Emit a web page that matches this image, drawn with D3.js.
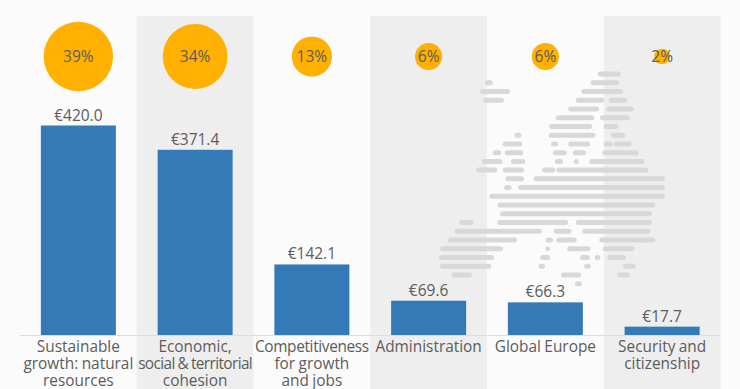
<!DOCTYPE html>
<html>
<head>
<meta charset="utf-8">
<script src="https://cdn.jsdelivr.net/npm/d3@7"></script>
<style>
  html, body { margin: 0; padding: 0; background: #fbfbfb; }
  svg { display: block; font-family: "Open Sans", sans-serif; }
</style>
</head>
<body>
<div id="chart"></div>
<script>
const categories = [
  ['Sustainable', 'growth: natural', 'resources'],
  ['Economic,', 'social & territorial', 'cohesion'],
  ['Competitiveness', 'for growth', 'and jobs'],
  ['Administration'],
  ['Global Europe'],
  ['Security and', 'citizenship']
];
const budget = [420.0, 371.4, 142.1, 69.6, 66.3, 17.7];
const shares = [39, 34, 13, 6, 6, 2];

// backdrop map of Europe: one list of [from, to] dashes per row
const mapRows = [
  [[597.7, 620.7]],
  [[485, 492.7], [590.7, 619.3]],
  [[480, 510], [581.3, 622.7]],
  [[483.3, 504], [575.7, 604], [608.7, 627.3]],
  [[568.3, 599], [606, 633.3]],
  [[555.7, 594.3], [600, 630]],
  [[549.3, 592], [603.7, 618.3]],
  [[514.7, 521.3], [548.7, 595.3], [611, 625]],
  [[502.7, 522.3], [551, 558], [568.3, 590], [603.7, 612.7], [614, 631.7]],
  [[492.7, 501], [504.7, 523.3], [553, 566.7], [572.7, 586], [602.3, 638.7]],
  [[482, 502.3], [511, 525.3], [554.7, 563], [573.7, 578.7], [589.3, 644.3]],
  [[476, 497.3], [502.7, 524], [542, 555.3], [556.3, 648.3]],
  [[505.3, 524], [533.7, 665]],
  [[504, 511.7], [518.3, 665]],
  [[489.3, 665]],
  [[497.3, 655.3]],
  [[500, 652]],
  [[459.3, 473.7], [497.3, 568], [576, 652]],
  [[454.7, 541.7], [553.7, 571.3], [582.3, 650.3]],
  [[448, 517], [545.7, 553], [556.3, 576.7], [599.3, 655.3]],
  [[440, 503], [545.3, 550], [567.3, 590.7], [602.7, 634.3]],
  [[439, 494], [540.3, 550], [580, 589.7], [594.7, 600.3], [607.3, 626]],
  [[440, 491.3], [538.7, 545], [584, 590.7], [623, 635.7]],
  [[451.7, 472], [561, 581.3], [617.3, 630]],
  [[575, 581.7]]
];

const width = 740, height = 389;
const baseline = 335.5;

const svg = d3.select('#chart').append('svg')
  .attr('width', width)
  .attr('height', height)
  .attr('viewBox', `0 0 ${width} ${height}`);

const x = d3.scaleBand().domain(d3.range(categories.length)).range([20, 720.5]);
const barWidth = 75;
const y = d3.scaleLinear().domain([0, 420]).range([baseline, 125.5]);
const r = d3.scaleSqrt().domain([0, 39]).range([0, 34.7]);
const rowY = d3.scaleLinear().domain([0, mapRows.length - 1]).range([74, 283.7]);

// every other column gets a grey band
svg.append('g').selectAll('rect')
  .data(d3.range(categories.length).filter(i => i % 2 === 1))
  .join('rect')
  .attr('x', i => x(i))
  .attr('y', 16)
  .attr('width', x.bandwidth())
  .attr('height', height - 16)
  .attr('fill', '#eeeeee');

// dashed map behind the bars
svg.append('g').selectAll('g')
  .data(mapRows)
  .join('g')
  .attr('transform', (d, i) => `translate(0,${rowY(i)})`)
  .selectAll('rect')
  .data(d => d)
  .join('rect')
  .attr('x', d => d[0])
  .attr('y', -2.5)
  .attr('width', d => d[1] - d[0])
  .attr('height', 5)
  .attr('rx', 2.5)
  .attr('fill', '#d8d8d8');

// bars
svg.append('g').selectAll('rect')
  .data(budget)
  .join('rect')
  .attr('x', (d, i) => x(i) + (x.bandwidth() - barWidth) / 2)
  .attr('y', d => y(d))
  .attr('width', barWidth)
  .attr('height', d => baseline - y(d))
  .attr('fill', '#337ab7');

// value labels above the bars
svg.append('g').selectAll('text')
  .data(budget)
  .join('text')
  .attr('x', (d, i) => x(i) + x.bandwidth() / 2)
  .attr('y', d => y(d) - 5)
  .attr('text-anchor', 'middle')
  .attr('font-size', 15.5)
  .attr('fill', '#5c5c5c')
  .text(d => `€${d.toFixed(1)}`);

// share bubbles along the top
svg.append('g').selectAll('circle')
  .data(shares)
  .join('circle')
  .attr('cx', (d, i) => x(i) + x.bandwidth() / 2)
  .attr('cy', 56.5)
  .attr('r', d => r(d))
  .attr('fill', '#ffb000');

svg.append('g').selectAll('text')
  .data(shares)
  .join('text')
  .attr('x', (d, i) => x(i) + x.bandwidth() / 2)
  .attr('y', 62)
  .attr('text-anchor', 'middle')
  .attr('font-size', 15.5)
  .attr('fill', '#5c5c5c')
  .text(d => `${d}%`);

// baseline
svg.append('line')
  .attr('x1', 20).attr('x2', 720.5)
  .attr('y1', baseline).attr('y2', baseline)
  .attr('stroke', '#dddddd');

// category labels, wrapped by hand like the original
const maxLabelWidth = 114;
svg.append('g').selectAll('text')
  .data(d3.range(categories.length).flatMap(i => categories[i].map((line, j) => ({ line, i, j }))))
  .join('text')
  .attr('text-anchor', 'middle')
  .attr('font-size', 15.4)
  .attr('word-spacing', -0.6)
  .attr('fill', '#5c5c5c')
  .attr('x', d => x(d.i) + x.bandwidth() / 2)
  .attr('y', d => 352 + d.j * 17.2)
  .text(d => d.line)
  .each(function(d) {
    // long lines get tightened so they stay inside their column
    const over = this.getComputedTextLength() - maxLabelWidth;
    if (over > 0) d3.select(this).attr('letter-spacing', -over / d.line.length);
  });
</script>
</body>
</html>
